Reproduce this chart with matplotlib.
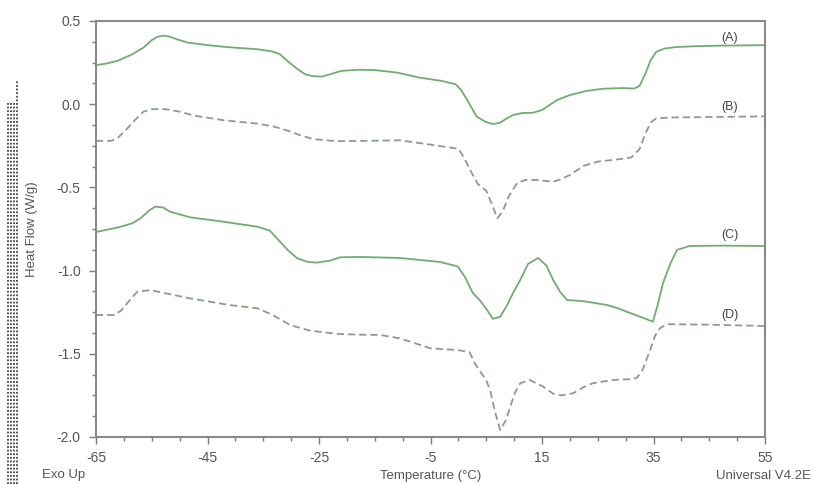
import matplotlib
matplotlib.use("Agg")
import matplotlib.pyplot as plt
from matplotlib.lines import Line2D

plt.rcParams['font.family'] = ['Liberation Sans', 'DejaVu Sans']
plt.rcParams['axes.unicode_minus'] = False

# ---- data ----
temp_a = [-65, -63, -61, -58.5, -56.5, -55, -54, -53, -52, -50.5, -48.5, -45, -42, -39, -36,
          -33.5, -32, -30.5, -29, -27.5, -26, -24.5, -23, -21, -18, -15, -11, -7, -3, -0.5,
          0.5, 1.5, 3.3, 5, 6.2, 7.5, 8.7, 9.8, 11.5, 13.4, 15, 17.7, 20, 23, 26, 29.5, 31.5,
          32.5, 33.5, 34.5, 35.5, 37, 39, 42, 47, 55]
flow_a = [0.235, 0.245, 0.262, 0.300, 0.340, 0.385, 0.405, 0.412, 0.408, 0.390, 0.370, 0.355,
          0.345, 0.337, 0.330, 0.318, 0.300, 0.255, 0.215, 0.180, 0.168, 0.166, 0.180, 0.200,
          0.207, 0.205, 0.190, 0.160, 0.140, 0.120, 0.085, 0.030, -0.075, -0.108, -0.119,
          -0.111, -0.085, -0.065, -0.053, -0.051, -0.035, 0.025, 0.055, 0.080, 0.093, 0.097,
          0.094, 0.110, 0.180, 0.265, 0.315, 0.335, 0.343, 0.348, 0.352, 0.355]

temp_b = [-65, -62.2, -61, -59.5, -58, -56.5, -55, -52.5, -50, -47.5, -42, -36, -33, -30.5,
          -28.5, -26, -22, -16, -10.5, -5, 0, 1, 2.5, 3.5, 5, 6, 7, 8, 9, 10.5, 12, 14, 17,
          18.5, 20, 22.5, 25, 29, 31, 32.5, 33.5, 34.5, 35.5, 38, 45, 55]
flow_b = [-0.220, -0.220, -0.200, -0.150, -0.095, -0.045, -0.030, -0.030, -0.045, -0.068,
          -0.097, -0.117, -0.135, -0.160, -0.185, -0.210, -0.222, -0.220, -0.217, -0.243,
          -0.268, -0.320, -0.420, -0.480, -0.520, -0.600, -0.686, -0.640, -0.556, -0.475,
          -0.455, -0.455, -0.466, -0.450, -0.425, -0.370, -0.345, -0.330, -0.320, -0.270,
          -0.180, -0.110, -0.085, -0.080, -0.077, -0.073]

temp_c = [-65, -61, -58.5, -57, -55.5, -54.4, -53, -51.7, -48.1, -42.2, -36.1, -33.8, -32,
          -30.5, -28.9, -27, -25.4, -23, -21.2, -17.6, -10.5, -3.3, -0.1, 1.2, 2.6, 3.9, 5,
          6.2, 7.5, 8.7, 9.8, 11.1, 12.5, 14.3, 15.8, 17, 18.3, 19.5, 21.8, 23.1, 26.7, 28.5,
          30.8, 32.6, 34.9, 35.8, 36.7, 38, 39.2, 41.5, 47, 55]
flow_c = [-0.768, -0.740, -0.716, -0.685, -0.640, -0.616, -0.620, -0.646, -0.680, -0.706,
          -0.736, -0.760, -0.826, -0.880, -0.926, -0.948, -0.952, -0.940, -0.920, -0.918,
          -0.924, -0.948, -0.975, -1.040, -1.135, -1.180, -1.230, -1.290, -1.277, -1.210,
          -1.135, -1.056, -0.960, -0.924, -0.970, -1.056, -1.130, -1.177, -1.182, -1.187,
          -1.207, -1.225, -1.255, -1.277, -1.307, -1.200, -1.075, -0.960, -0.876, -0.852,
          -0.850, -0.852]

temp_d = [-65, -61.8, -60.5, -59, -57.6, -55.3, -53, -48.1, -41, -36, -33.3, -30.2, -26.6,
          -21.5, -17.6, -14, -10.5, -5, 0, 2, 3, 4, 5, 5.7, 6.5, 7.5, 8.5, 9.3, 10.2, 11.1,
          12.8, 15.2, 17, 18.5, 20.6, 22.5, 24.1, 27.7, 30.8, 32, 33, 34.4, 35.3, 36.2, 37.4,
          45, 55]
flow_d = [-1.267, -1.267, -1.240, -1.180, -1.127, -1.117, -1.133, -1.167, -1.207, -1.227,
          -1.267, -1.327, -1.361, -1.381, -1.385, -1.387, -1.407, -1.467, -1.478, -1.490,
          -1.560, -1.610, -1.660, -1.718, -1.840, -1.958, -1.900, -1.818, -1.730, -1.677,
          -1.657, -1.697, -1.740, -1.750, -1.737, -1.700, -1.677, -1.657, -1.653, -1.645,
          -1.600, -1.477, -1.390, -1.345, -1.322, -1.325, -1.333]

curve_labels = ['(A)', '(B)', '(C)', '(D)']
label_y = [0.40, -0.015, -0.786, -1.267]
x_ticks = [-65, -45, -25, -5, 15, 35, 55]
y_ticks = [0.5, 0.0, -0.5, -1.0, -1.5, -2.0]

# ---- figure ----
W, H = 813, 484
fig = plt.figure(figsize=(W / 100, H / 100), dpi=100)
ax = fig.add_axes([96 / W, 1 - 437 / H, (765 - 96) / W, (437 - 21) / H])

solid_col = '#6fae6f'
dash_col = '#8c9c8c'
ax.plot(temp_a, flow_a, color=solid_col, lw=1.3, solid_joinstyle='round')
ax.plot(temp_b, flow_b, color=dash_col, lw=1.3, dashes=(4, 2.2))
ax.plot(temp_c, flow_c, color=solid_col, lw=1.3, solid_joinstyle='round')
ax.plot(temp_d, flow_d, color=dash_col, lw=1.3, dashes=(4, 2.2))

for lab, yv in zip(curve_labels, label_y):
    ax.text(48.7, yv, lab, ha='center', va='center', fontsize=9, color='#444444')

ax.set_xlim(-65, 55)
ax.set_ylim(-2.0, 0.5)
ax.set_xticks(x_ticks)
ax.set_xticklabels([f'{v:d}' for v in x_ticks])
ax.set_yticks(y_ticks)
ax.set_yticklabels([f'{v:.1f}' for v in y_ticks])
ax.set_xticks([v for v in range(-65, 56, 5)], minor=True)
ax.set_yticks([-2.0 + 0.125 * i for i in range(21)], minor=True)

tick_col = '#7a7a7a'
ax.tick_params(axis='both', which='major', direction='out', length=5, width=1,
               color=tick_col, labelcolor='#555555', labelsize=10)
ax.tick_params(axis='both', which='minor', direction='out', length=3, width=1, color=tick_col)
ax.tick_params(axis='y', which='major', pad=6)
ax.tick_params(axis='x', which='major', pad=5)
for s in ax.spines.values():
    s.set_color('#8a8a8a')
    s.set_linewidth(1.5)

fig.text(32 / W, 1 - 229 / H, 'Heat Flow (W/g)', rotation=90, ha='center', va='center',
         fontsize=9.5, color='#555555')
fig.text(431 / W, 1 - 476 / H, 'Temperature (°C)', ha='center', va='center',
         fontsize=9.5, color='#555555')
fig.text(42 / W, 1 - 475 / H, 'Exo Up', ha='left', va='center', fontsize=9.5, color='#555555')
fig.text(811 / W, 1 - 476 / H, 'Universal V4.2E', ha='right', va='center', fontsize=9.5,
         color='#555555')

# dotted strip at far left
for xp, y0 in [(8.3, 103), (11.0, 103), (13.8, 103), (16.6, 80)]:
    fig.add_artist(Line2D([xp / W, xp / W], [0, 1 - y0 / H], transform=fig.transFigure,
                          color='#444444', lw=1.3, linestyle=(0, (1, 1))))

fig.savefig('out.png', dpi=100)
